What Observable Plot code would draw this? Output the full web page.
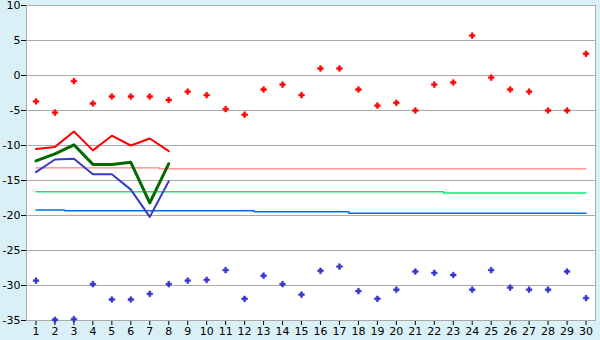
<!DOCTYPE html>
<html>
<head>
<meta charset="utf-8">
<script src="https://cdn.jsdelivr.net/npm/d3@7"></script>
<script src="https://cdn.jsdelivr.net/npm/@observablehq/plot@0.6"></script>
<style>
  html, body { margin: 0; padding: 0; background: #d9f0f7; }
  #chart svg { display: block; }
</style>
</head>
<body>
<div id="chart"></div>
<script>
const days = [1,2,3,4,5,6,7,8,9,10,11,12,13,14,15,16,17,18,19,20,21,22,23,24,25,26,27,28,29,30];
const yTicks = [-35,-30,-25,-20,-15,-10,-5,0,5,10];
const gridTicks = [-30,-25,-20,-15,-10,-5,0,5,10];

const redPts = [-3.7,-5.3,-0.8,-4.0,-3.0,-3.0,-3.0,-3.5,-2.3,-2.8,-4.8,-5.6,-2.0,-1.3,-2.8,1.0,1.0,-2.0,-4.3,-3.9,-5.0,-1.3,-1.0,5.7,-0.3,-2.0,-2.3,-5.0,-5.0,3.1];
const bluePts = [-29.3,-34.9,-34.8,-29.8,-32.0,-32.0,-31.2,-29.8,-29.3,-29.2,-27.8,-31.9,-28.6,-29.8,-31.3,-27.9,-27.3,-30.8,-31.9,-30.6,-28.0,-28.2,-28.5,-30.6,-27.8,-30.3,-30.6,-30.6,-28.0,-31.8];

const lineDays = [1,2,3,4,5,6,7,8];
const redLine = [-10.5,-10.2,-8.0,-10.7,-8.6,-10.0,-9.0,-10.8];
const greenLine = [-12.2,-11.2,-9.9,-12.7,-12.7,-12.4,-18.2,-12.6];
const blueLine = [-13.8,-12.0,-11.9,-14.1,-14.1,-16.3,-20.2,-15.1];

const pinkLevel = [-13.2,-13.2,-13.2,-13.2,-13.2,-13.2,-13.2,-13.33,-13.33,-13.33,-13.33,-13.33,-13.33,-13.33,-13.33,-13.33,-13.33,-13.33,-13.33,-13.33,-13.33,-13.33,-13.33,-13.33,-13.33,-13.33,-13.33,-13.33,-13.33,-13.33];
const greenLevel = [-16.6,-16.6,-16.6,-16.6,-16.6,-16.6,-16.6,-16.6,-16.6,-16.6,-16.6,-16.6,-16.6,-16.6,-16.6,-16.6,-16.6,-16.6,-16.6,-16.6,-16.6,-16.6,-16.78,-16.78,-16.78,-16.78,-16.78,-16.78,-16.78,-16.78];
const blueLevel = [-19.2,-19.2,-19.33,-19.33,-19.33,-19.33,-19.33,-19.33,-19.33,-19.33,-19.33,-19.33,-19.47,-19.47,-19.47,-19.47,-19.47,-19.67,-19.67,-19.67,-19.67,-19.67,-19.67,-19.67,-19.67,-19.67,-19.67,-19.67,-19.67,-19.67];

const gridColor = "#aaaaaa";

const chart = Plot.plot({
  width: 600,
  height: 340,
  marginLeft: 26,
  marginRight: 5,
  marginTop: 5,
  marginBottom: 20,
  style: {background: "#d9f0f7", fontFamily: "DejaVu Sans", fontSize: "11px", color: "#000", overflow: "visible"},
  x: {type: "point", domain: days, padding: 0.5, round: false, tickSize: 5, tickPadding: 2, tickFormat: d => String(d), label: null},
  y: {domain: [-35, 10], ticks: yTicks, tickSize: 5, tickPadding: 1, tickFormat: d => String(d), label: null},
  marks: [
    Plot.frame({fill: "white", stroke: null}),
    Plot.ruleY(gridTicks, {stroke: gridColor, strokeWidth: 1}),
    Plot.frame({stroke: gridColor, strokeWidth: 1}),
    Plot.line(days, {x: days, y: pinkLevel, curve: "step", stroke: "#ff8080", strokeWidth: 1.2}),
    Plot.line(days, {x: days, y: greenLevel, curve: "step", stroke: "#00ee77", strokeWidth: 1.5}),
    Plot.line(days, {x: days, y: blueLevel, curve: "step", stroke: "#0070e8", strokeWidth: 1.5}),
    Plot.line(lineDays, {x: lineDays, y: redLine, stroke: "#ff0000", strokeWidth: 2}),
    Plot.line(lineDays, {x: lineDays, y: greenLine, stroke: "#006a00", strokeWidth: 3}),
    Plot.line(lineDays, {x: lineDays, y: blueLine, stroke: "#3838cc", strokeWidth: 2}),
    Plot.dot(days, {x: days, y: redPts, symbol: "cross", r: 2.4, fill: "#ff0000", stroke: "#ff0000", strokeWidth: 0.5}),
    Plot.dot(days, {x: days, y: bluePts, symbol: "cross", r: 2.4, fill: "#3333cc", stroke: "#3333cc", strokeWidth: 0.5})
  ]
});
document.getElementById("chart").append(chart);
</script>
</body>
</html>
